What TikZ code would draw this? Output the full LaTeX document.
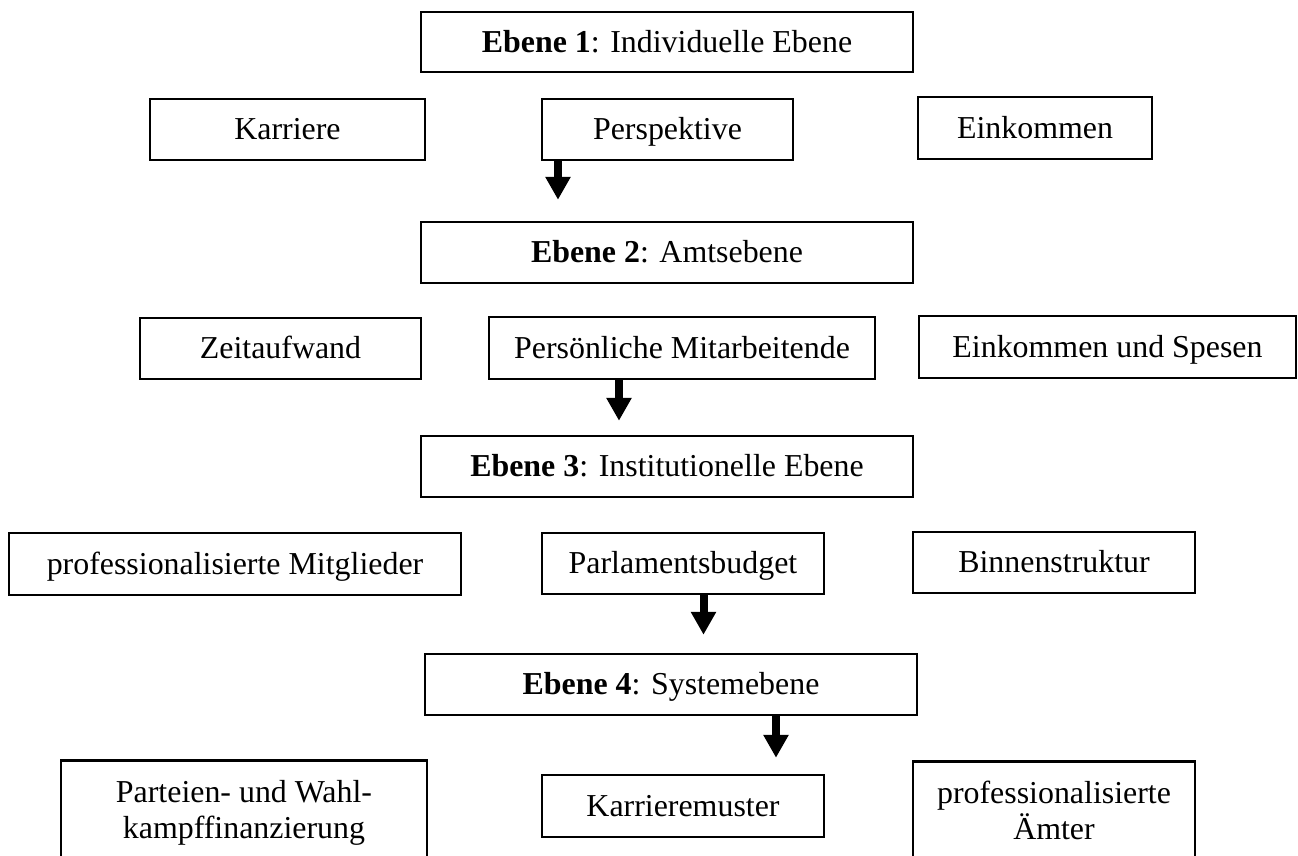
\documentclass[tikz,border=0pt]{standalone}
\usepackage{fontspec}
\setmainfont{Liberation Serif}
\usetikzlibrary{arrows.meta}
\begin{document}
\begin{tikzpicture}[x=1pt,y=-1pt,
  txt/.style={font=\fontsize{31.9}{36}\selectfont},
  box/.style={txt, draw, line width=2.5pt, rectangle, inner sep=0pt,
    text height=26pt, text depth=6pt},
  box2/.style={txt, draw, line width=2.5pt, rectangle, align=center,
    inner xsep=0pt, inner ysep=18pt, anchor=north},
  bigarrow/.style={line width=8pt, -{Triangle[width=24pt,length=23pt]}}
]
\useasboundingbox (0,0) rectangle (1298,855);

% Level 1
\node[box, minimum width=492, minimum height=60] (e1) at (667,42) {\textbf{Ebene 1}: Individuelle Ebene};
\node[box, minimum width=275, minimum height=61] (karriere) at (287.5,129.5) {Karriere};
\node[box, minimum width=251, minimum height=61] (persp) at (667.5,129.5) {Perspektive};
\node[box, minimum width=234, minimum height=62] (eink) at (1035,128) {Einkommen};

% Level 2
\node[box, minimum width=492, minimum height=61] (e2) at (667,252.5) {\textbf{Ebene 2}: Amtsebene};
\node[box, minimum width=281, minimum height=61] (zeit) at (280.5,348.5) {Zeitaufwand};
\node[box, minimum width=386, minimum height=62] (pers) at (682,348) {Persönliche Mitarbeitende};
\node[box, minimum width=377, minimum height=62] (eus) at (1107.5,347) {Einkommen und Spesen};

% Level 3
\node[box, minimum width=492, minimum height=61] (e3) at (667,466.5) {\textbf{Ebene 3}: Institutionelle Ebene};
\node[box, minimum width=452, minimum height=62] (mitgl) at (235,564) {professionalisierte Mitglieder};
\node[box, minimum width=282, minimum height=61] (budget) at (683,563.5) {Parlamentsbudget};
\node[box, minimum width=282, minimum height=61] (binnen) at (1054,562.5) {Binnenstruktur};

% Level 4
\node[box, minimum width=492, minimum height=61] (e4) at (671,684.5) {\textbf{Ebene 4}: Systemebene};
\node[box2, minimum width=366] (parteien) at (244,759) {\rule{0pt}{24pt}Parteien- und Wahl-\\kampffinanzierung\rule[-40pt]{0pt}{40pt}};
\node[box, minimum width=282, minimum height=62] (kmuster) at (683,806) {Karrieremuster};
\node[box2, minimum width=282] (aemter) at (1054,760) {\rule{0pt}{24pt}professionalisierte\\Ämter\rule[-40pt]{0pt}{40pt}};

% Arrows
\draw[bigarrow, shorten >=21pt] ([xshift=-109.5pt]persp.south) -- ([xshift=-109.5pt]persp.south |- e2.north);
\draw[bigarrow, shorten >=14pt] ([xshift=-63pt]pers.south) -- ([xshift=-63pt]pers.south |- e3.north);
\draw[bigarrow, shorten >=18pt] ([xshift=20.5pt]budget.south) -- ([xshift=20.5pt]budget.south |- e4.north);
\draw[bigarrow, shorten >=16pt] ([xshift=105pt]e4.south) -- ([xshift=105pt]e4.south |- kmuster.north);
\end{tikzpicture}
\end{document}
